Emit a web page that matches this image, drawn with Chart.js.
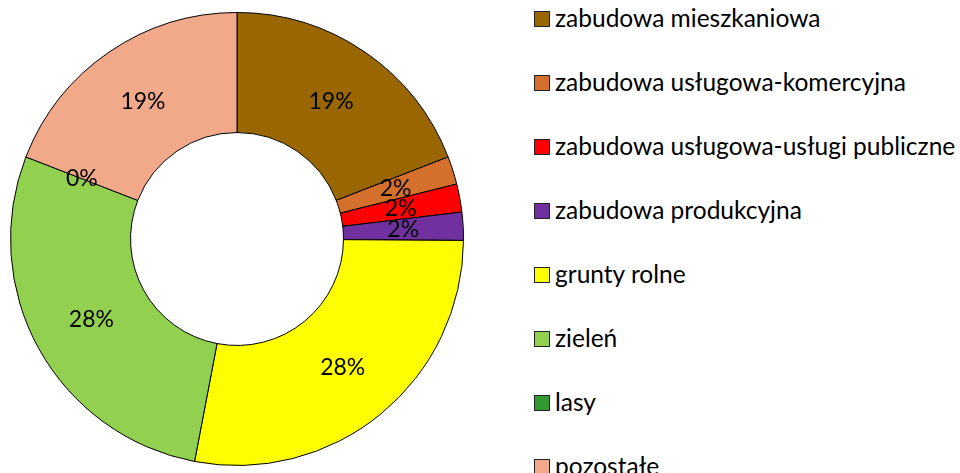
<!DOCTYPE html>
<html>
<head>
<meta charset="utf-8">
<script src="https://cdn.jsdelivr.net/npm/chart.js@4"></script>
<style>
  html, body { margin: 0; padding: 0; background: #fff; overflow: hidden; }
  #wrap { position: relative; width: 960px; height: 473px; overflow: hidden; }
  #chart { position: absolute; left: 0; top: 0; }
  #legend { position: absolute; left: 534px; top: 0; margin: 0; padding: 0; list-style: none;
    font-family: Lato, "Open Sans", sans-serif; font-size: 24.5px; color: #000; }
  #legend li { position: absolute; left: 0; white-space: nowrap; height: 30px; line-height: 30px; }
  #legend span.box { display: inline-block; width: 14px; height: 14px; border: 1px solid #222;
    vertical-align: baseline; margin-right: 5px; }
</style>
</head>
<body>
<div id="wrap">
  <canvas id="chart" width="474" height="473"></canvas>
  <ul id="legend"></ul>
</div>
<script>
const LABELS = [
  "zabudowa mieszkaniowa",
  "zabudowa usługowa-komercyjna",
  "zabudowa usługowa-usługi publiczne",
  "zabudowa produkcyjna",
  "grunty rolne",
  "zieleń",
  "lasy",
  "pozostałe",
];
const VALUES = [19.1, 2.0, 2.0, 2.0, 27.9, 27.9, 0, 19.1];
const COLORS = ["#996600", "#D46F2C", "#FF0000", "#7030A0", "#FFFF00", "#92D050", "#339933", "#F2A98A"];

const total = VALUES.reduce((a, b) => a + b, 0);

// percent labels in the middle of each ring segment
const pctLabels = {
  id: "pctLabels",
  afterDatasetsDraw(chart) {
    const { ctx } = chart;
    const meta = chart.getDatasetMeta(0);
    ctx.save();
    ctx.font = "23px Lato, 'Open Sans', sans-serif";
    ctx.fillStyle = "#000";
    ctx.textAlign = "center";
    ctx.textBaseline = "middle";
    meta.data.forEach((arc, i) => {
      const p = arc.tooltipPosition();
      ctx.fillText(Math.round(VALUES[i] / total * 100) + "%", p.x, p.y);
    });
    ctx.restore();
  },
};

new Chart(document.getElementById("chart"), {
  type: "doughnut",
  data: {
    labels: LABELS,
    datasets: [{
      data: VALUES,
      backgroundColor: COLORS,
      borderColor: "#000",
      borderWidth: 1,
    }],
  },
  options: {
    responsive: false,
    animation: false,
    cutout: "47%",
    layout: { padding: { left: 10, right: 10, top: 12, bottom: 7 } },
    plugins: {
      legend: { display: false },
      tooltip: { enabled: false },
    },
  },
  plugins: [pctLabels],
});

const legend = document.getElementById("legend");
LABELS.forEach((label, i) => {
  const li = document.createElement("li");
  li.style.top = (2.5 + i * 64) + "px";
  li.innerHTML = '<span class="box" style="background:' + COLORS[i] + '"></span>' + label;
  legend.appendChild(li);
});
</script>
</body>
</html>
